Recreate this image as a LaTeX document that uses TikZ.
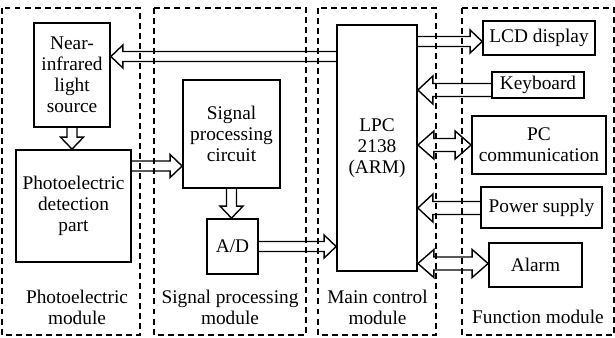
\documentclass[tikz,border=0pt]{standalone}
\usepackage{fontspec}
\setmainfont{Liberation Serif}
\usetikzlibrary{calc}

\tikzset{
    unitbox/.style={draw, line width=1pt, align=center, inner sep=1pt},
    module/.style={draw, semithick, dash pattern=on 3.4pt off 2.3pt},
    modname/.style={align=center, inner sep=0pt},
    % 空心箭头: 半杆宽, 半箭头宽, 箭头长
    harrow/.style n args={3}{to path={
        ($(\tikztostart)!#1!90:(\tikztotarget)$)
        -- ($(\tikztotarget)!#3!(\tikztostart)!#1!-90:(\tikztostart)$)
        -- ($(\tikztotarget)!#3!(\tikztostart)!#2!-90:(\tikztostart)$)
        -- (\tikztotarget)
        -- ($(\tikztotarget)!#3!(\tikztostart)!#2!90:(\tikztostart)$)
        -- ($(\tikztotarget)!#3!(\tikztostart)!#1!90:(\tikztostart)$)
        -- ($(\tikztostart)!#1!-90:(\tikztotarget)$)}},
    % 双向空心箭头
    darrow/.style n args={3}{to path={
        ($(\tikztostart)!#3!(\tikztotarget)!#1!90:(\tikztotarget)$)
        -- ($(\tikztotarget)!#3!(\tikztostart)!#1!-90:(\tikztostart)$)
        -- ($(\tikztotarget)!#3!(\tikztostart)!#2!-90:(\tikztostart)$)
        -- (\tikztotarget)
        -- ($(\tikztotarget)!#3!(\tikztostart)!#2!90:(\tikztostart)$)
        -- ($(\tikztotarget)!#3!(\tikztostart)!#1!90:(\tikztostart)$)
        -- ($(\tikztostart)!#3!(\tikztotarget)!#1!-90:(\tikztotarget)$)
        -- ($(\tikztostart)!#3!(\tikztotarget)!#2!-90:(\tikztotarget)$)
        -- (\tikztostart)
        -- ($(\tikztostart)!#3!(\tikztotarget)!#2!90:(\tikztotarget)$)
        -- cycle}},
    sarrow/.style={thick, harrow={0.1cm}{0.23cm}{0.24cm}},
    warrow/.style={thick, harrow={0.13cm}{0.28cm}{0.3cm}},
    wdarrow/.style={thick, darrow={0.13cm}{0.28cm}{0.32cm}},
}

\begin{document}
\begin{tikzpicture}[semithick, font=\fontsize{11}{12}\selectfont]
    \useasboundingbox (0,0) rectangle (12.3,-6.74);

    % 四个模块 (虚线框)
    \draw[module] (0.04,-0.16) rectangle (2.8,-6.7);
    \draw[module] (3.08,-0.16) rectangle (6.12,-6.7);
    \draw[module] (6.36,-0.16) rectangle (8.72,-6.7);
    \draw[module] (9.24,-0.16) rectangle (12.28,-6.7);

    % 模块名称
    \node[modname] (photomod) at (1.54,-6.14) {Photoelectric\\module};
    \node[modname] (sigmod) at (4.6,-6.14) {Signal processing\\module};
    \node[modname] (mainmod) at (7.55,-6.14) {Main control\\module};
    \node[modname] (funcmod) at (10.76,-6.34) {Function module};

    % 光电模块
    \node[unitbox, minimum width=1.52cm, minimum height=2.08cm] (nir) at (1.44,-1.5) {Near-\\infrared\\light\\source};
    \node[unitbox, minimum width=2.3cm, minimum height=2.24cm] (pd) at (1.47,-4.12) {Photoelectric\\detection\\part};

    % 信号处理模块
    \node[unitbox, minimum width=1.94cm, minimum height=2.16cm] (spc) at (4.63,-2.68) {Signal\\processing\\circuit};
    \node[unitbox, minimum width=1.02cm, minimum height=1.1cm] (ad) at (4.65,-4.93) {A/D};

    % 主控模块
    \node[unitbox, minimum width=1.6cm, minimum height=4.92cm] (lpc) at (7.54,-2.96) {LPC\\2138\\(ARM)};

    % 功能模块
    \node[unitbox, minimum width=2.24cm, minimum height=0.68cm] (lcd) at (10.78,-0.76) {LCD display};
    \node[unitbox, minimum width=1.84cm, minimum height=0.52cm] (kb) at (10.76,-1.7) {Keyboard};
    \node[unitbox, minimum width=2.68cm, minimum height=1.16cm] (pc) at (10.78,-2.9) {PC\\communication};
    \node[unitbox, minimum width=2.42cm, minimum height=0.82cm] (ps) at (10.83,-4.15) {Power supply};
    \node[unitbox, minimum width=1.86cm, minimum height=0.88cm] (alarm) at (10.71,-5.3) {Alarm};

    % 空心箭头
    \draw[sarrow] (lpc.west |- 0,-1.13) to (nir.east |- 0,-1.13);
    \draw[sarrow] (nir.south) to (nir.south |- pd.north);
    \draw[sarrow] (pd.east |- 0,-3.32) to (spc.west |- 0,-3.32);
    \draw[sarrow] (spc.south) to (spc.south |- ad.north);
    \draw[sarrow] (ad.east) to (ad.east -| lpc.west);
    \draw[sarrow] (lpc.east |- 0,-0.83) to (lcd.west |- 0,-0.83);
    \draw[warrow] (kb.west |- 0,-1.8) to (lpc.east |- 0,-1.8);
    \draw[wdarrow] (lpc.east |- pc.west) to (pc.west);
    \draw[warrow] (ps.west |- 0,-4.16) to (lpc.east |- 0,-4.16);
    \draw[wdarrow] (lpc.east |- 0,-5.27) to (alarm.west |- 0,-5.27);
\end{tikzpicture}
\end{document}
